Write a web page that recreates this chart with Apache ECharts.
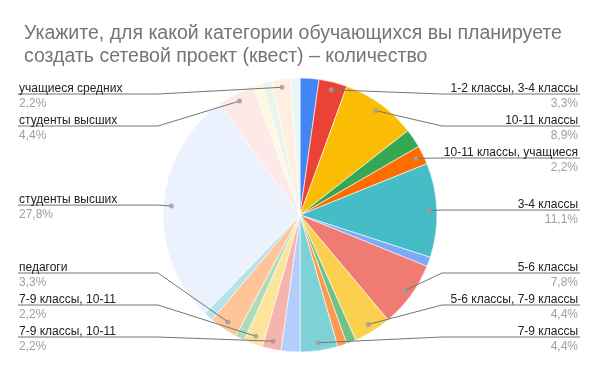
<!DOCTYPE html>
<html><head><meta charset="utf-8">
<script src="https://cdn.jsdelivr.net/npm/echarts@6/dist/echarts.min.js"></script>
<style>html,body{margin:0;padding:0;background:#fff}#c{width:600px;height:371px}</style>
</head><body><div id="c"></div>
<script>
const categories = [
  '1-2 классы',
  '1-2 классы, 3-4 классы',
  '10-11 классы',
  '10-11 классы, педагоги',
  '10-11 классы, учащиеся средних профессиональных учебных заведений',
  '3-4 классы',
  '3-4 классы, 5-6 классы',
  '5-6 классы',
  '5-6 классы, 7-9 классы',
  '5-6 классы, 7-9 классы, 10-11 классы',
  '5-6 классы, педагоги',
  '7-9 классы',
  '7-9 классы, 10-11 классы',
  '7-9 классы, 10-11 классы, педагоги',
  '7-9 классы, 10-11 классы, студенты',
  '7-9 классы, педагоги',
  'педагоги',
  'педагоги, студенты',
  'студенты высших учебных заведений',
  'студенты высших учебных заведений, педагоги',
  'студенты средних',
  'учащиеся 10-11 классов',
  'учащиеся средних профессиональных учебных заведений',
  'учащиеся, педагоги'
];
const values = [2,3,8,2,2,10,1,7,4,1,1,4,2,2,2,1,3,1,25,4,1,1,2,1];
const labelTexts = [
  '', '1-2 классы, 3-4 классы', '10-11 классы', '', '10-11 классы, учащиеся',
  '3-4 классы', '', '5-6 классы', '5-6 классы, 7-9 классы', '', '',
  '7-9 классы', '', '7-9 классы, 10-11', '7-9 классы, 10-11', '',
  'педагоги', '', 'студенты высших', 'студенты высших', '', '',
  'учащиеся средних', ''
];
const colors = [
  '#4285f4','#ea4335','#fbbc04','#34a853','#ff6d01','#46bdc6',
  '#7baaf7','#f07b72','#fcd04f','#71c287','#ff994d','#7ed1d7',
  '#b3cefb','#f7b4ae','#fde49b','#aedcba','#ffc599','#b5e3e8',
  '#ebf1fd','#fde9e8','#fef7e1','#e8f5eb','#ffefe3','#eaf7f8'
];
const titleText = 'Укажите, для какой категории обучающихся вы планируете\nсоздать сетевой проект (квест) – количество';

const FONT = '"Liberation Sans", Arial, sans-serif';
const total = values.reduce((a, b) => a + b, 0);
const R = 137, RL = 129, BEND = 142;
const CX = 300, CY = 215;
const VIEW_TOP = 79, VIEW_BOTTOM = 19, VIEW_RIGHT = 3;
const LABEL_TOP = 94, LABEL_BOTTOM = 337, LABEL_GAP = 32;

const pct = v => (v / total * 100).toFixed(1).replace('.', ',') + '%';

// Google-like label placement: natural y at bend radius, then pushed apart within bounds
function computeLabelY() {
  const items = [];
  let acc = 0;
  values.forEach((v, i) => {
    const mid = (acc + v / 2) / total * 2 * Math.PI;
    acc += v;
    if (!labelTexts[i]) return;
    items.push({ i: i, side: Math.sin(mid) >= 0 ? 1 : -1, y: CY - BEND * Math.cos(mid) });
  });
  const res = {};
  [1, -1].forEach(s => {
    const list = items.filter(d => d.side === s).sort((a, b) => a.y - b.y);
    for (let k = 0; k < list.length; k++)
      list[k].y = Math.max(list[k].y, k ? list[k - 1].y + LABEL_GAP : LABEL_TOP);
    for (let k = list.length - 1; k >= 0; k--)
      list[k].y = Math.min(list[k].y, k < list.length - 1 ? list[k + 1].y - LABEL_GAP : LABEL_BOTTOM);
    list.forEach(d => { res[d.i] = d.y; });
  });
  return res;
}
const labelY = computeLabelY();

const mainData = values.map((v, i) => ({
  name: categories[i], value: v, itemStyle: { color: colors[i] }
}));
const labelData = values.map((v, i) => {
  const show = labelTexts[i] !== '';
  return { name: categories[i], value: v, label: { show: show }, labelLine: { show: show } };
});
const dots = [];
let acc = 0;
values.forEach((v, i) => {
  if (labelTexts[i]) dots.push([RL, acc + v / 2]);
  acc += v;
});

const chart = echarts.init(document.getElementById('c'));
chart.setOption({
  animation: false,
  backgroundColor: '#fff',
  title: {
    text: titleText, left: 19, top: 17,
    textStyle: { fontFamily: FONT, fontSize: 19.5, fontWeight: 'normal', color: '#757575', lineHeight: 23 }
  },
  polar: { center: [CX, CY], radius: R },
  angleAxis: { type: 'value', min: 0, max: total, startAngle: 90, clockwise: true, show: false },
  radiusAxis: { type: 'value', min: 0, max: R, show: false },
  series: [
    {
      type: 'pie', silent: true, z: 1,
      left: 0, right: VIEW_RIGHT, top: VIEW_TOP, bottom: VIEW_BOTTOM,
      center: [CX, CY - VIEW_TOP], radius: R,
      startAngle: 90, clockwise: true,
      itemStyle: { borderColor: '#fff', borderWidth: 0.6 },
      label: { show: false }, labelLine: { show: false },
      data: mainData
    },
    {
      type: 'pie', silent: true, z: 3,
      left: 0, right: VIEW_RIGHT, top: VIEW_TOP, bottom: VIEW_BOTTOM,
      center: [CX, CY - VIEW_TOP], radius: RL,
      startAngle: 90, clockwise: true,
      itemStyle: { color: 'rgba(0,0,0,0)' },
      emphasis: { disabled: true },
      label: {
        alignTo: 'edge', edgeDistance: 19, minMargin: 2,
        formatter: p => '{n|' + labelTexts[p.dataIndex] + '}\n{p|' + pct(p.value) + '}',
        rich: {
          n: { fontFamily: FONT, fontSize: 12, color: '#222222', lineHeight: 20 },
          p: { fontFamily: FONT, fontSize: 12, color: '#9e9e9e', lineHeight: 10 }
        }
      },
      labelLine: { length: BEND - RL, length2: 10, lineStyle: { color: '#757575', width: 1 } },
      labelLayout: function (params) {
        const pts = params.labelLinePoints;
        if (!pts || labelY[params.dataIndex] == null) return {};
        const rect = params.labelRect;
        const isLeft = rect.x < CX;
        const y = labelY[params.dataIndex];
        const bendX = isLeft ? CX - BEND : CX + BEND;
        const endX = isLeft ? rect.x - 1 : rect.x + rect.width + 2;
        return { y: y, labelLinePoints: [pts[0], [bendX, y], [endX, y]] };
      },
      data: labelData
    },
    {
      type: 'scatter', coordinateSystem: 'polar', silent: true, z: 4,
      symbol: 'circle', symbolSize: 5,
      itemStyle: { color: '#9e9e9e' },
      data: dots
    }
  ]
});
</script></body></html>
